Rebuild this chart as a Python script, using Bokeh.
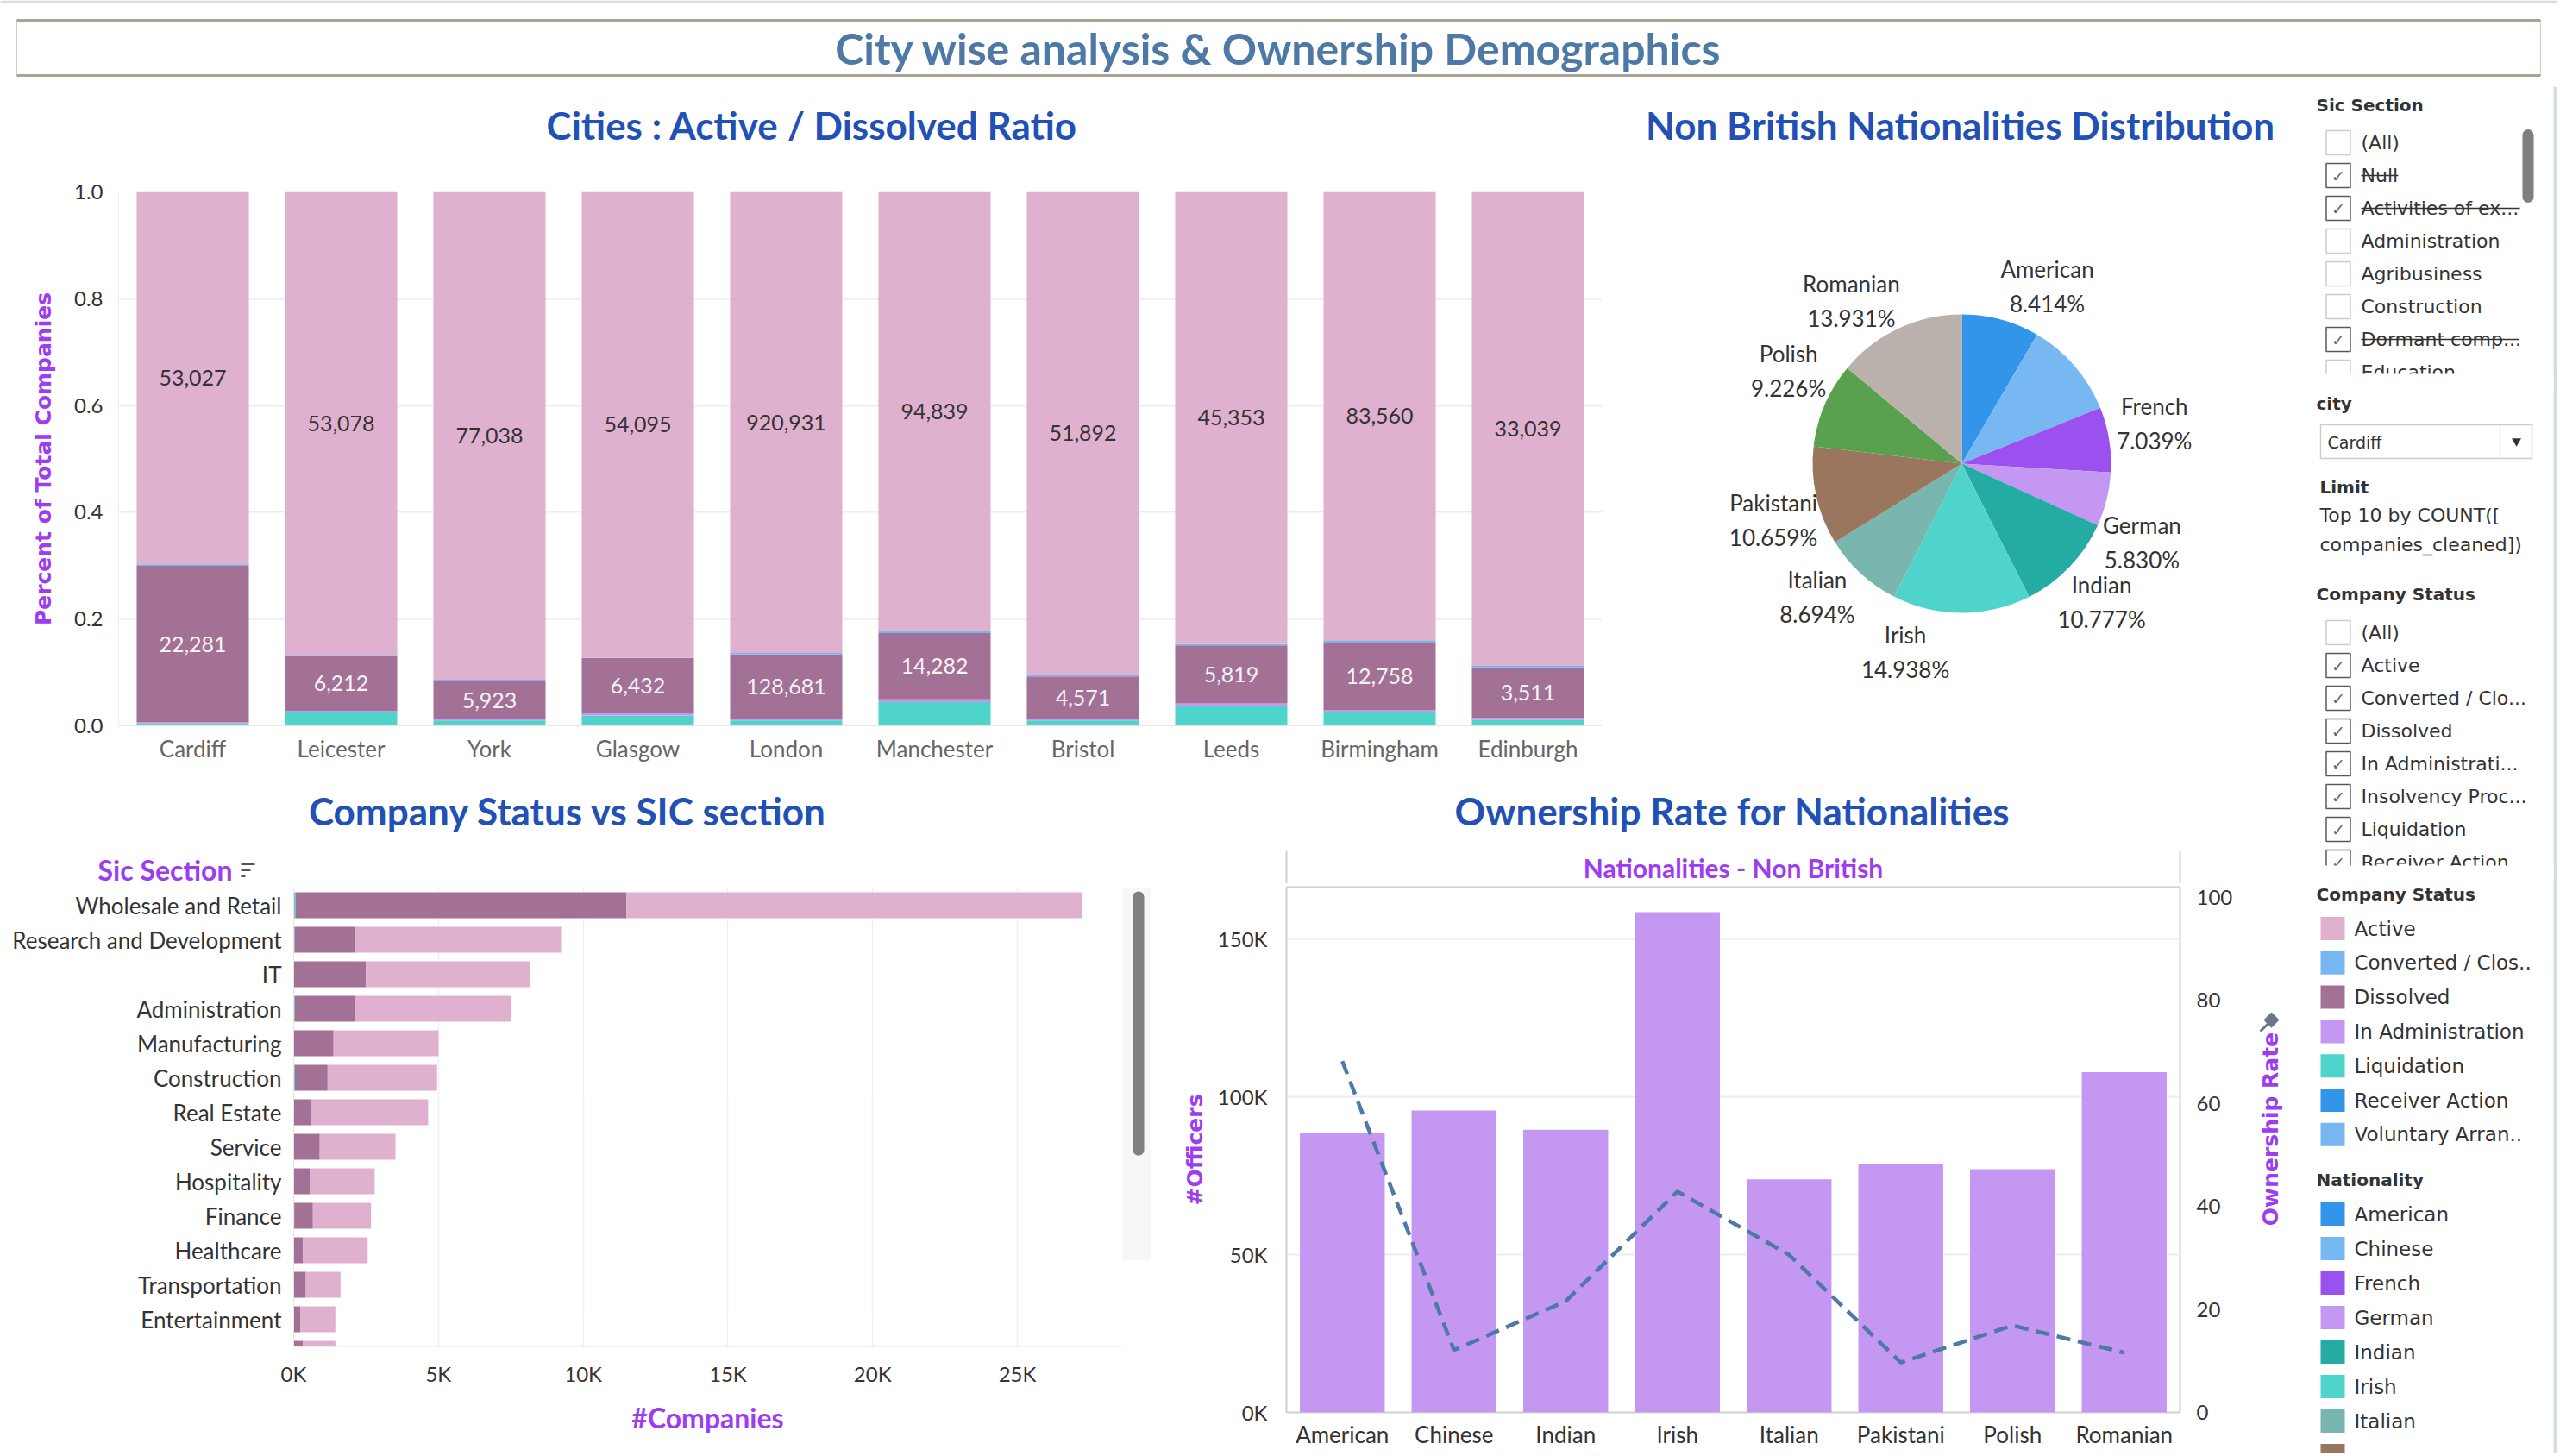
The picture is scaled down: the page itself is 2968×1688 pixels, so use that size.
import math
from bokeh.plotting import figure
from bokeh.layouts import row, column
from bokeh.models import (ColumnDataSource, Range1d, FactorRange, FixedTicker,
                          LinearAxis, PrintfTickFormatter)
from bokeh.core.properties import value
from bokeh.embed import file_html
from bokeh.resources import INLINE

# ------------------------------------------------------------------ data
dashboard_title = "City wise analysis & Ownership Demographics"
title_cities = "Cities : Active / Dissolved Ratio"
title_pie = "Non British Nationalities Distribution"
title_sic = "Company Status vs SIC section"
title_owner = "Ownership Rate for Nationalities"

cities = ["Cardiff", "Leicester", "York", "Glasgow", "London",
          "Manchester", "Bristol", "Leeds", "Birmingham", "Edinburgh"]
city_active = [53027, 53078, 77038, 54095, 920931, 94839, 51892, 45353, 83560, 33039]
city_dissolved = [22281, 6212, 5923, 6432, 128681, 14282, 4571, 5819, 12758, 3511]
city_liquidation = [340, 1590, 850, 1210, 10600, 5100, 570, 1950, 2480, 410]
city_in_admin = [150, 150, 250, 250, 3200, 640, 170, 300, 400, 150]
city_converted = [230, 180, 250, 30, 3000, 350, 170, 160, 300, 110]
ratio_ticks = [0.0, 0.2, 0.4, 0.6, 0.8, 1.0]

pie_nationalities = ["American", "Chinese", "French", "German", "Indian",
                     "Irish", "Italian", "Pakistani", "Polish", "Romanian"]
pie_share = [8.414, 10.492, 7.039, 5.830, 10.777, 14.938, 8.694, 10.659, 9.226, 13.931]
pie_label_shown = [True, False, True, True, True, True, True, True, True, True]
nationality_colors = ["#3395e9", "#77b8f3", "#9b51f0", "#c497f2", "#24aba3",
                      "#4fd4cc", "#79b6b0", "#9a765e", "#59a14f", "#bab0ac"]

sic_sections = ["Wholesale and Retail", "Research and Development", "IT", "Administration",
                "Manufacturing", "Construction", "Real Estate", "Service", "Hospitality",
                "Finance", "Healthcare", "Transportation", "Entertainment", "Education"]
sic_liquidation = [60, 30, 10, 40, 15, 40, 10, 10, 10, 20, 5, 5, 5, 5]
sic_dissolved = [11440, 2080, 2491, 2080, 1362, 1132, 593, 890, 542, 644, 310, 414, 232, 310]
sic_active = [15720, 7128, 5661, 5397, 3629, 3781, 4043, 2616, 2246, 2006, 2242, 1199, 1202, 1124]
company_ticks = [0, 5000, 10000, 15000, 20000, 25000]
company_tick_labels = ["0K", "5K", "10K", "15K", "20K", "25K"]

owner_nationalities = ["American", "Chinese", "Indian", "Irish", "Italian",
                       "Pakistani", "Polish", "Romanian"]
owner_officers = [88500, 95600, 89500, 158400, 73800, 78700, 77000, 107700]
owner_rate = [68.2, 12.1, 21.6, 42.9, 30.6, 9.7, 16.9, 11.6]
officer_ticks = [0, 50000, 100000, 150000]
officer_tick_labels = ["0K", "50K", "100K", "150K"]
rate_ticks = [0, 20, 40, 60, 80, 100]

status_names = ["Active", "Converted / Clos..", "Dissolved", "In Administration",
                "Liquidation", "Receiver Action", "Voluntary Arran.."]
status_colors = ["#dfb1cf", "#76b7f2", "#a37096", "#c497f2", "#4fd4cc", "#3296e8", "#76b7f2"]

sic_filter_items = ["(All)", "Null", "Activities of ex...", "Administration",
                    "Agribusiness", "Construction", "Dormant comp...", "Education"]
sic_filter_checked = [False, True, True, False, False, False, True, False]
sic_filter_struck = [False, True, True, False, False, False, True, False]
status_filter_items = ["(All)", "Active", "Converted / Clo...", "Dissolved",
                       "In Administrati...", "Insolvency Proc...", "Liquidation", "Receiver Action"]
status_filter_checked = [False, True, True, True, True, True, True, True]

# ------------------------------------------------------------------ styles
PURPLE = "#9d3cf0"
TITLE_BLUE = "#2251b5"
STEEL = "#4e79a7"
DARK = "#333333"
C_ACTIVE, C_CONV, C_DISS, C_ADMIN, C_LIQ = "#dfb1cf", "#76b7f2", "#a37096", "#c497f2", "#4fd4cc"
FIG = dict(toolbar_location=None, output_backend="svg")
PAGE_W, PAGE_H = 2964, 1684
# label placement nudges (degrees) used by the pie labels to avoid overlaps
pie_label_nudge = [-10.6, 0.0, 2.4, -9.7, -0.9, -16.6, -4.7, 4.1, -5.0, 9.1]


def panel(w, h, x0, x1, y0, y1, **borders):
    opts = dict(min_border=0)
    opts.update(borders)
    p = figure(width=w, height=h, x_range=Range1d(x0, x1), y_range=Range1d(y1, y0),
               x_axis_type=None, y_axis_type=None, **opts, **FIG)
    p.outline_line_color = None
    p.background_fill_color = "white"
    p.border_fill_color = "white"
    return p


def put(p, xs, ys, texts, size, color=DARK, font="Lato", style="normal",
        align="center", baseline="middle", angle=0):
    p.text(x=xs, y=ys, text=texts, text_font=value(font), text_font_style=style,
           text_font_size=f"{size}px", text_color=color, text_align=align,
           text_baseline=baseline, angle=angle)


def style_axis(ax, size=24, color=DARK, font="Lato"):
    ax.major_label_text_font = font
    ax.major_label_text_font_size = f"{size}px"
    ax.major_label_text_color = color
    ax.major_tick_line_color = None
    ax.minor_tick_line_color = None


# ------------------------------------------------------------------ dashboard title
tfig = panel(PAGE_W, 100, 0, PAGE_W, 0, 100)
tfig.quad(left=[0], right=[PAGE_W], top=[0], bottom=[3], fill_color="#d5dde4", line_color=None)
tfig.quad(left=[19], right=[2945], top=[23], bottom=[87], fill_color="white",
          line_color="#cfccc2", line_width=1)
tfig.segment(x0=[19, 19], y0=[23, 87], x1=[2945, 2945], y1=[23, 87],
             line_color="#a9a596", line_width=3)
put(tfig, [1482], [55], [dashboard_title], 50, color=STEEL, style="bold")

# ------------------------------------------------------------------ cities stacked bars
totals = [a + d + l + m + c for a, d, l, m, c in
          zip(city_active, city_dissolved, city_liquidation, city_in_admin, city_converted)]


def frac(arr):
    return [v / t for v, t in zip(arr, totals)]


dA = dict(city=cities, liq=frac(city_liquidation), adm=frac(city_in_admin),
          dis=frac(city_dissolved), conv=frac(city_converted), act=frac(city_active))
dA["act_mid"] = [1 - a / 2 for a in dA["act"]]
dA["dis_mid"] = [l + m + d / 2 for l, m, d in zip(dA["liq"], dA["adm"], dA["dis"])]
dA["act_lbl"] = [f"{v:,}" for v in city_active]
dA["dis_lbl"] = [f"{v:,}" for v in city_dissolved]
srcA = ColumnDataSource(dA)

# the title strip shares its frame edges with the chart below it (Bokeh aligns them)
tA = panel(1900, 80, 137, 1857, 100, 180, min_border_left=137, min_border_right=43)
put(tA, [941], [144], [title_cities], 44, color=TITLE_BLUE, style="bold")

pA = figure(width=1900, height=710, x_range=FactorRange(factors=cities), y_range=Range1d(0, 1),
            min_border_left=137, min_border_right=43, min_border_top=42, min_border_bottom=49, **FIG)
pA.outline_line_color = None
pA.vbar_stack(["liq", "adm", "dis", "conv", "act"], x="city", width=0.756,
              fill_color=[C_LIQ, C_ADMIN, C_DISS, C_CONV, C_ACTIVE], line_color=None, source=srcA)
pA.text(x="city", y="act_mid", text="act_lbl", source=srcA, text_font=value("Lato"),
        text_font_size="25px", text_color=DARK, text_align="center", text_baseline="middle")
pA.text(x="city", y="dis_mid", text="dis_lbl", source=srcA, text_font=value("Lato"),
        text_font_size="25px", text_color="#f4f4f4", text_align="center", text_baseline="middle")
pA.yaxis.ticker = FixedTicker(ticks=ratio_ticks)
pA.yaxis.formatter = PrintfTickFormatter(format="%.1f")
style_axis(pA.yaxis[0])
pA.yaxis.axis_line_color = "#eeeeee"
pA.yaxis.major_label_standoff = 12
pA.yaxis.axis_label = "Percent of Total Companies"
pA.yaxis.axis_label_text_font = "DejaVu Sans"
pA.yaxis.axis_label_text_font_style = "bold"
pA.yaxis.axis_label_text_font_size = "25px"
pA.yaxis.axis_label_text_color = PURPLE
pA.yaxis.axis_label_standoff = 18
style_axis(pA.xaxis[0], size=26, color="#666666")
pA.xaxis.axis_line_color = "#e6e6e6"
pA.xaxis.major_label_standoff = 4
pA.xgrid.grid_line_color = None
pA.ygrid.ticker = FixedTicker(ticks=ratio_ticks)
pA.ygrid.grid_line_color = "#ededed"
pA.ygrid.grid_line_width = 2

# ------------------------------------------------------------------ pie
tB = panel(768, 80, 1900, 2668, 100, 180)
put(tB, [2272], [144], [title_pie], 44, color=TITLE_BLUE, style="bold")

pie_r = 173
label_r = 228
starts, ends, lx, ly, ltxt = [], [], [], [], []
cum = 0.0
for name, share, shown, nudge in zip(pie_nationalities, pie_share, pie_label_shown, pie_label_nudge):
    a0 = math.pi / 2 - 2 * math.pi * cum / 100
    a1 = math.pi / 2 - 2 * math.pi * (cum + share) / 100
    starts.append(a0)
    ends.append(a1)
    mid = (a0 + a1) / 2 + math.radians(nudge)
    if shown:
        lx.append(label_r * math.cos(mid))
        ly.append(label_r * math.sin(mid))
        ltxt.append(f"{name}\n{share:.3f}%")
    cum += share
srcB = ColumnDataSource(dict(nat=pie_nationalities, start=starts, end=ends, color=nationality_colors))

pB = figure(width=768, height=710, x_range=Range1d(-374, 394), y_range=Range1d(-353, 357),
            x_axis_type=None, y_axis_type=None, min_border=0, **FIG)
pB.outline_line_color = None
pB.wedge(x=0, y=0, radius=pie_r, start_angle="start", end_angle="end", direction="clock",
         fill_color="color", line_color=None, source=srcB)
pB.text(x=lx, y=ly, text=ltxt, text_font=value("Lato"), text_font_size="26px",
        text_color=DARK, text_align="center", text_baseline="middle", text_line_height=1.25)

# ------------------------------------------------------------------ SIC horizontal bars
tC = panel(1348, 138, 0, 1348, 890, 1028)
put(tC, [658], [939], [title_sic], 44, color=TITLE_BLUE, style="bold")
put(tC, [191], [1008], ["Sic Section"], 32, color=PURPLE, style="bold")
tC.segment(x0=[279, 279, 279], y0=[1001, 1008, 1015], x1=[295, 290, 284], y1=[1001, 1008, 1015],
           line_color="#555555", line_width=3)

bottom_h = PAGE_H - 1028
srcC = ColumnDataSource(dict(idx=list(range(len(sic_sections))), liq=sic_liquidation,
                             dis=sic_dissolved, act=sic_active))
pC = figure(width=1300, height=bottom_h, x_range=Range1d(0, 28605), y_range=Range1d(12.8, -0.525),
            min_border_left=340, min_border_right=0, min_border_top=0,
            min_border_bottom=bottom_h - 533, **FIG)
pC.outline_line_color = None
pC.hbar_stack(["liq", "dis", "act"], y="idx", height=0.75,
              fill_color=[C_LIQ, C_DISS, C_ACTIVE], line_color=None, source=srcC)
pC.yaxis.ticker = FixedTicker(ticks=list(range(len(sic_sections))))
pC.yaxis.major_label_overrides = {i: s for i, s in enumerate(sic_sections)}
style_axis(pC.yaxis[0], size=26)
pC.yaxis.axis_line_color = "#e4e4e4"
pC.yaxis.major_label_standoff = 8
pC.xaxis.ticker = FixedTicker(ticks=company_ticks)
pC.xaxis.major_label_overrides = {t: l for t, l in zip(company_ticks, company_tick_labels)}
style_axis(pC.xaxis[0])
pC.xaxis.axis_line_color = "#eeeeee"
pC.xaxis.major_label_standoff = 10
pC.xaxis.axis_label = "#Companies"
pC.xaxis.axis_label_text_font = "Lato"
pC.xaxis.axis_label_text_font_style = "bold"
pC.xaxis.axis_label_text_font_size = "32px"
pC.xaxis.axis_label_text_color = PURPLE
pC.xaxis.axis_label_standoff = 14
pC.ygrid.grid_line_color = None
pC.xgrid.ticker = FixedTicker(ticks=company_ticks)
pC.xgrid.grid_line_color = "#f0f0f0"
pC.xgrid.grid_line_width = 1.5

scroll = panel(48, bottom_h, 1300, 1348, 1028, PAGE_H)
scroll.quad(left=[1300], right=[1334], top=[1028], bottom=[1561], fill_color="#f7f7f7", line_color=None)
scroll.segment(x0=[1319.5], y0=[1042], x1=[1319.5], y1=[1403], line_color="#7f7f7f",
               line_width=13, line_cap="round")

# ------------------------------------------------------------------ ownership combo
tD = panel(1320, 134, 1348, 2668, 890, 1024)
put(tD, [2008], [939], [title_owner], 44, color=TITLE_BLUE, style="bold")
put(tD, [2009], [1005], ["Nationalities - Non British"], 30, color=PURPLE, style="bold")
tD.segment(x0=[1491, 2527], y0=[986, 986], x1=[1491, 2527], y1=[1024, 1024],
           line_color="#d0d0d0", line_width=2)

srcD = ColumnDataSource(dict(nat=owner_nationalities, officers=owner_officers, rate=owner_rate))
pD = figure(width=1252, height=PAGE_H - 1024, x_range=FactorRange(factors=owner_nationalities),
            y_range=Range1d(0, 166300), min_border_left=143, min_border_right=73,
            min_border_top=4, min_border_bottom=PAGE_H - 1637, **FIG)
pD.extra_y_ranges = {"rate": Range1d(0, 102)}
pD.outline_line_color = "#d0d0d0"
pD.outline_line_width = 2
pD.vbar(x="nat", top="officers", width=0.76, fill_color="#c497f2", line_color=None, source=srcD)
pD.line(x="nat", y="rate", y_range_name="rate", line_color=STEEL, line_width=4.5,
        line_dash="16 9", source=srcD)
pD.yaxis.ticker = FixedTicker(ticks=officer_ticks)
pD.yaxis.major_label_overrides = {t: l for t, l in zip(officer_ticks, officer_tick_labels)}
style_axis(pD.yaxis[0])
pD.yaxis.axis_line_color = None
pD.yaxis.major_label_standoff = 16
pD.yaxis.axis_label = "#Officers"
pD.yaxis.axis_label_text_font = "DejaVu Sans"
pD.yaxis.axis_label_text_font_style = "bold"
pD.yaxis.axis_label_text_font_size = "25px"
pD.yaxis.axis_label_text_color = PURPLE
pD.yaxis.axis_label_standoff = 9
rax = LinearAxis(y_range_name="rate", ticker=FixedTicker(ticks=rate_ticks))
style_axis(rax)
rax.axis_line_color = None
rax.major_label_standoff = 13
pD.add_layout(rax, "right")
style_axis(pD.xaxis[0], size=26)
pD.xaxis.axis_line_color = None
pD.xaxis.major_label_standoff = 3
pD.xgrid.grid_line_color = None
pD.ygrid.ticker = FixedTicker(ticks=officer_ticks)
pD.ygrid.grid_line_color = "#eeeeee"
pD.ygrid.grid_line_width = 2

# right-hand axis title (reads bottom-to-top, as in the reference) with its pin icon
rD = panel(68, PAGE_H - 1024, 2600, 2668, 1024, PAGE_H)
put(rD, [2632], [1328], ["Ownership Rate"], 25, color=PURPLE, font="DejaVu Sans", style="bold",
    angle=math.pi / 2)
rD.segment(x0=[2620], y0=[1205], x1=[2629], y1=[1196], line_color="#6b7784", line_width=3)
rD.scatter(x=[2633], y=[1191], marker="square", size=13, angle=math.pi / 4,
           fill_color="#6b7784", line_color=None)

# ------------------------------------------------------------------ sidebar
SB_W = PAGE_W - 2668
S = panel(SB_W, PAGE_H - 100, 2668, PAGE_W, 100, PAGE_H)
S.quad(left=[2960], right=[PAGE_W], top=[100], bottom=[PAGE_H], fill_color="#d5dde4", line_color=None)
HDR = dict(font="DejaVu Sans", style="bold", align="left")
ITEM = dict(font="DejaVu Sans", align="left")


def checklist(ys, items, checked):
    S.rect(x=[2710.5] * len(ys), y=ys, width=28, height=28, fill_color="white",
           line_color=["#5a5a5a" if c else "#cccccc" for c in checked], line_width=1.5)
    cy = [y for y, c in zip(ys, checked) if c]
    put(S, [2710.5] * len(cy), cy, ["✓"] * len(cy), 19, color="#666666", font="DejaVu Sans")
    put(S, [2737] * len(ys), ys, items, 22, **ITEM)


put(S, [2685], [121], ["Sic Section"], 20, **HDR)
ys1 = [165 + 38 * i for i in range(len(sic_filter_items))]
checklist(ys1, sic_filter_items, sic_filter_checked)
strike_w = {"Null": 43, "Activities of ex...": 184, "Dormant comp...": 183}
for y, it, s in zip(ys1, sic_filter_items, sic_filter_struck):
    if s:
        S.segment(x0=[2737], y0=[y], x1=[2737 + strike_w[it]], y1=[y], line_color=DARK, line_width=1.5)
S.quad(left=[2668], right=[2960], top=[433], bottom=[452], fill_color="white", line_color=None)
S.segment(x0=[2930.5], y0=[156], x1=[2930.5], y1=[228], line_color="#7f7f7f", line_width=13,
          line_cap="round")

put(S, [2685], [467], ["city"], 20, **HDR)
S.quad(left=[2690], right=[2935], top=[492], bottom=[531], fill_color="white",
       line_color="#cccccc", line_width=1.5)
S.segment(x0=[2898], y0=[492], x1=[2898], y1=[531], line_color="#dddddd", line_width=1.5)
put(S, [2698], [512], ["Cardiff"], 19, **ITEM)
S.scatter(x=[2917], y=[511], marker="inverted_triangle", size=11, fill_color=DARK, line_color=None)

put(S, [2689], [564], ["Limit"], 20, **HDR)
put(S, [2689, 2689], [597, 631], ["Top 10 by COUNT([", "companies_cleaned])"], 22, **ITEM)

put(S, [2685], [688], ["Company Status"], 20, **HDR)
ys2 = [733 + 38 * i for i in range(len(status_filter_items))]
checklist(ys2, status_filter_items, status_filter_checked)
S.quad(left=[2668], right=[2960], top=[1003], bottom=[1018], fill_color="white", line_color=None)

put(S, [2685], [1036], ["Company Status"], 20, **HDR)
ys3 = [1076 + 39.8 * i for i in range(len(status_names))]
S.rect(x=[2704] * len(ys3), y=ys3, width=28, height=27, fill_color=status_colors, line_color=None)
put(S, [2729] * len(ys3), ys3, status_names, 23, **ITEM)

put(S, [2685], [1367], ["Nationality"], 20, **HDR)
ys4 = [1407 + 40 * i for i in range(len(pie_nationalities))]
S.rect(x=[2704] * len(ys4), y=ys4, width=28, height=27, fill_color=nationality_colors, line_color=None)
fit = [i for i, y in enumerate(ys4) if y + 15 < PAGE_H]
put(S, [2729] * len(fit), [ys4[i] for i in fit], [pie_nationalities[i] for i in fit], 23, **ITEM)

# ------------------------------------------------------------------ layout
top_row = row(column(tA, pA), column(tB, pB))
bottom_row = row(column(tC, row(pC, scroll)), column(tD, row(pD, rD)))
layout = column(tfig, row(column(top_row, bottom_row), S))

open("out.html", "w").write(file_html(layout, INLINE))
